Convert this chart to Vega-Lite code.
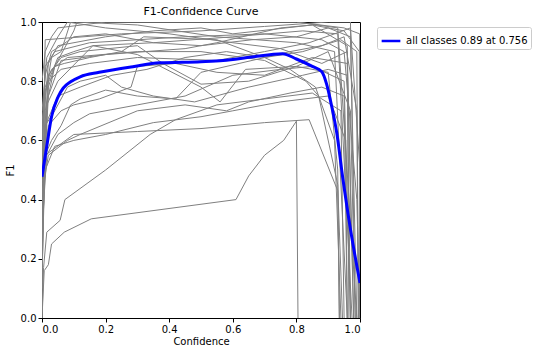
{
  "$schema": "https://vega.github.io/schema/vega-lite/v6.json",
  "width": 318,
  "height": 296,
  "autosize": {"type": "none"},
  "padding": {"left": 42, "top": 22, "right": 173, "bottom": 37},
  "background": "white",
  "title": {"text": "F1-Confidence Curve", "fontSize": 11, "font": "DejaVu Sans", "fontWeight": "normal", "color": "black", "offset": 0},
  "config": {
    "view": {"stroke": "black", "strokeWidth": 1},
    "axis": {"grid": false, "domainColor": "black", "tickColor": "black", "tickSize": 4, "labelFont": "DejaVu Sans", "labelFontSize": 10, "labelColor": "black", "titleFont": "DejaVu Sans", "titleFontSize": 10, "titleFontWeight": "normal", "titleColor": "black", "labelPadding": 2}
  },
  "datasets": {
    "grey": [
      {"c":"L1","x":0,"y":0.0},{"c":"L1","x":0.005,"y":0.6},{"c":"L1","x":0.01,"y":0.94},{"c":"L1","x":0.07,"y":0.945},{"c":"L1","x":0.25,"y":0.96},{"c":"L1","x":0.5,"y":0.97},{"c":"L1","x":0.7,"y":0.985},{"c":"L1","x":0.9,"y":1.0},{"c":"L1","x":0.97,"y":1.0},{"c":"L1","x":0.985,"y":0},
      {"c":"L2","x":0,"y":0.1},{"c":"L2","x":0.01,"y":0.75},{"c":"L2","x":0.03,"y":0.88},{"c":"L2","x":0.06,"y":0.9},{"c":"L2","x":0.09,"y":1.0},{"c":"L2","x":0.5,"y":1.0},{"c":"L2","x":0.8,"y":1.0},{"c":"L2","x":0.93,"y":0.98},{"c":"L2","x":0.99,"y":0},
      {"c":"L3","x":0,"y":0.2},{"c":"L3","x":0.01,"y":0.7},{"c":"L3","x":0.04,"y":0.85},{"c":"L3","x":0.1,"y":0.97},{"c":"L3","x":0.11,"y":1.0},{"c":"L3","x":0.3,"y":0.99},{"c":"L3","x":0.55,"y":0.95},{"c":"L3","x":0.8,"y":0.93},{"c":"L3","x":0.92,"y":0.9},{"c":"L3","x":0.96,"y":0},
      {"c":"L4","x":0,"y":0.3},{"c":"L4","x":0.02,"y":0.8},{"c":"L4","x":0.05,"y":0.88},{"c":"L4","x":0.1,"y":0.9},{"c":"L4","x":0.16,"y":0.92},{"c":"L4","x":0.35,"y":0.93},{"c":"L4","x":0.6,"y":0.95},{"c":"L4","x":0.82,"y":0.97},{"c":"L4","x":0.93,"y":0.96},{"c":"L4","x":0.975,"y":0},
      {"c":"L5","x":0,"y":0.35},{"c":"L5","x":0.02,"y":0.75},{"c":"L5","x":0.06,"y":0.87},{"c":"L5","x":0.2,"y":0.89},{"c":"L5","x":0.45,"y":0.91},{"c":"L5","x":0.55,"y":0.93},{"c":"L5","x":0.75,"y":0.98},{"c":"L5","x":0.85,"y":0.99},{"c":"L5","x":0.96,"y":0.92},{"c":"L5","x":0.965,"y":0},
      {"c":"L6","x":0,"y":0.4},{"c":"L6","x":0.015,"y":0.72},{"c":"L6","x":0.05,"y":0.8},{"c":"L6","x":0.16,"y":0.92},{"c":"L6","x":0.3,"y":0.89},{"c":"L6","x":0.5,"y":0.78},{"c":"L6","x":0.56,"y":0.73},{"c":"L6","x":0.64,"y":0.84},{"c":"L6","x":0.8,"y":0.85},{"c":"L6","x":0.9,"y":0.83},{"c":"L6","x":0.93,"y":0.5},{"c":"L6","x":0.935,"y":0},
      {"c":"L7","x":0,"y":0.0},{"c":"L7","x":0.005,"y":0.17},{"c":"L7","x":0.015,"y":0.29},{"c":"L7","x":0.057,"y":0.33},{"c":"L7","x":0.072,"y":0.4},{"c":"L7","x":0.2,"y":0.5},{"c":"L7","x":0.34,"y":0.62},{"c":"L7","x":0.42,"y":0.67},{"c":"L7","x":0.55,"y":0.72},{"c":"L7","x":0.7,"y":0.74},{"c":"L7","x":0.85,"y":0.76},{"c":"L7","x":0.94,"y":0.7},{"c":"L7","x":0.95,"y":0},
      {"c":"L8","x":0,"y":0.0},{"c":"L8","x":0.007,"y":0.16},{"c":"L8","x":0.02,"y":0.18},{"c":"L8","x":0.03,"y":0.25},{"c":"L8","x":0.07,"y":0.29},{"c":"L8","x":0.155,"y":0.335},{"c":"L8","x":0.61,"y":0.4},{"c":"L8","x":0.65,"y":0.48},{"c":"L8","x":0.7,"y":0.55},{"c":"L8","x":0.76,"y":0.6},{"c":"L8","x":0.8,"y":0.665},{"c":"L8","x":0.805,"y":0},
      {"c":"L9","x":0,"y":0.25},{"c":"L9","x":0.01,"y":0.5},{"c":"L9","x":0.04,"y":0.58},{"c":"L9","x":0.1,"y":0.6},{"c":"L9","x":0.2,"y":0.62},{"c":"L9","x":0.35,"y":0.66},{"c":"L9","x":0.5,"y":0.68},{"c":"L9","x":0.6,"y":0.7},{"c":"L9","x":0.75,"y":0.73},{"c":"L9","x":0.9,"y":0.75},{"c":"L9","x":0.955,"y":0.6},{"c":"L9","x":0.96,"y":0},
      {"c":"L10","x":0,"y":0.3},{"c":"L10","x":0.015,"y":0.55},{"c":"L10","x":0.05,"y":0.62},{"c":"L10","x":0.1,"y":0.66},{"c":"L10","x":0.15,"y":0.69},{"c":"L10","x":0.3,"y":0.72},{"c":"L10","x":0.45,"y":0.75},{"c":"L10","x":0.6,"y":0.82},{"c":"L10","x":0.75,"y":0.84},{"c":"L10","x":0.85,"y":0.85},{"c":"L10","x":0.95,"y":0.8},{"c":"L10","x":0.97,"y":0},
      {"c":"L11","x":0,"y":0.45},{"c":"L11","x":0.02,"y":0.65},{"c":"L11","x":0.06,"y":0.7},{"c":"L11","x":0.1,"y":0.72},{"c":"L11","x":0.18,"y":0.74},{"c":"L11","x":0.28,"y":0.78},{"c":"L11","x":0.3,"y":0.85},{"c":"L11","x":0.42,"y":0.86},{"c":"L11","x":0.55,"y":0.83},{"c":"L11","x":0.7,"y":0.82},{"c":"L11","x":0.85,"y":0.88},{"c":"L11","x":0.96,"y":0.86},{"c":"L11","x":0.98,"y":0},
      {"c":"L12","x":0,"y":0.5},{"c":"L12","x":0.02,"y":0.82},{"c":"L12","x":0.06,"y":0.88},{"c":"L12","x":0.12,"y":0.9},{"c":"L12","x":0.3,"y":0.92},{"c":"L12","x":0.38,"y":0.86},{"c":"L12","x":0.5,"y":0.79},{"c":"L12","x":0.65,"y":0.8},{"c":"L12","x":0.8,"y":0.85},{"c":"L12","x":0.9,"y":0.9},{"c":"L12","x":0.97,"y":0.7},{"c":"L12","x":0.985,"y":0},
      {"c":"L13","x":0,"y":0.55},{"c":"L13","x":0.01,"y":0.85},{"c":"L13","x":0.04,"y":0.9},{"c":"L13","x":0.15,"y":0.93},{"c":"L13","x":0.45,"y":0.95},{"c":"L13","x":0.7,"y":0.96},{"c":"L13","x":0.88,"y":0.94},{"c":"L13","x":0.95,"y":0.9},{"c":"L13","x":0.99,"y":0.4},{"c":"L13","x":1.0,"y":0},
      {"c":"L14","x":0,"y":0.6},{"c":"L14","x":0.02,"y":0.86},{"c":"L14","x":0.05,"y":0.92},{"c":"L14","x":0.2,"y":0.95},{"c":"L14","x":0.35,"y":0.97},{"c":"L14","x":0.5,"y":0.98},{"c":"L14","x":0.6,"y":0.96},{"c":"L14","x":0.85,"y":0.99},{"c":"L14","x":0.95,"y":0.97},{"c":"L14","x":0.998,"y":0.9},{"c":"L14","x":1.0,"y":0},
      {"c":"L15","x":0,"y":0.62},{"c":"L15","x":0.01,"y":0.78},{"c":"L15","x":0.03,"y":0.84},{"c":"L15","x":0.08,"y":0.88},{"c":"L15","x":0.3,"y":0.9},{"c":"L15","x":0.5,"y":0.9},{"c":"L15","x":0.7,"y":0.87},{"c":"L15","x":0.83,"y":0.8},{"c":"L15","x":0.87,"y":0.75},{"c":"L15","x":0.93,"y":0.45},{"c":"L15","x":0.945,"y":0},
      {"c":"L16","x":0,"y":0.5},{"c":"L16","x":0.01,"y":0.65},{"c":"L16","x":0.04,"y":0.7},{"c":"L16","x":0.08,"y":0.78},{"c":"L16","x":0.12,"y":0.8},{"c":"L16","x":0.2,"y":0.82},{"c":"L16","x":0.25,"y":0.78},{"c":"L16","x":0.35,"y":0.75},{"c":"L16","x":0.48,"y":0.73},{"c":"L16","x":0.65,"y":0.78},{"c":"L16","x":0.82,"y":0.82},{"c":"L16","x":0.9,"y":0.84},{"c":"L16","x":0.96,"y":0.82},{"c":"L16","x":0.97,"y":0},
      {"c":"L17","x":0,"y":0.15},{"c":"L17","x":0.01,"y":0.55},{"c":"L17","x":0.03,"y":0.6},{"c":"L17","x":0.06,"y":0.65},{"c":"L17","x":0.09,"y":0.72},{"c":"L17","x":0.12,"y":0.74},{"c":"L17","x":0.2,"y":0.77},{"c":"L17","x":0.3,"y":0.75},{"c":"L17","x":0.42,"y":0.74},{"c":"L17","x":0.5,"y":0.83},{"c":"L17","x":0.62,"y":0.86},{"c":"L17","x":0.78,"y":0.9},{"c":"L17","x":0.88,"y":0.92},{"c":"L17","x":0.95,"y":0.95},{"c":"L17","x":0.99,"y":0.7},{"c":"L17","x":0.995,"y":0},
      {"c":"L18","x":0,"y":0.7},{"c":"L18","x":0.015,"y":0.88},{"c":"L18","x":0.05,"y":0.95},{"c":"L18","x":0.08,"y":1.0},{"c":"L18","x":0.2,"y":0.98},{"c":"L18","x":0.4,"y":0.96},{"c":"L18","x":0.6,"y":0.93},{"c":"L18","x":0.75,"y":0.91},{"c":"L18","x":0.88,"y":0.86},{"c":"L18","x":0.96,"y":0.9},{"c":"L18","x":0.98,"y":0},
      {"c":"L19","x":0,"y":0.35},{"c":"L19","x":0.01,"y":0.65},{"c":"L19","x":0.05,"y":0.75},{"c":"L19","x":0.12,"y":0.78},{"c":"L19","x":0.22,"y":0.82},{"c":"L19","x":0.33,"y":0.84},{"c":"L19","x":0.45,"y":0.88},{"c":"L19","x":0.58,"y":0.9},{"c":"L19","x":0.7,"y":0.88},{"c":"L19","x":0.82,"y":0.9},{"c":"L19","x":0.94,"y":0.94},{"c":"L19","x":0.99,"y":0.9},{"c":"L19","x":0.995,"y":0},
      {"c":"L20","x":0,"y":0.8},{"c":"L20","x":0.01,"y":0.9},{"c":"L20","x":0.03,"y":0.95},{"c":"L20","x":0.05,"y":0.98},{"c":"L20","x":0.2,"y":1.0},{"c":"L20","x":0.6,"y":1.0},{"c":"L20","x":0.8,"y":1.0},{"c":"L20","x":0.95,"y":0.98},{"c":"L20","x":0.999,"y":0.96},{"c":"L20","x":1.0,"y":0},
      {"c":"L21","x":0,"y":0.4},{"c":"L21","x":0.02,"y":0.78},{"c":"L21","x":0.04,"y":0.85},{"c":"L21","x":0.07,"y":0.86},{"c":"L21","x":0.15,"y":0.88},{"c":"L21","x":0.25,"y":0.9},{"c":"L21","x":0.32,"y":0.95},{"c":"L21","x":0.55,"y":0.94},{"c":"L21","x":0.7,"y":0.88},{"c":"L21","x":0.78,"y":0.84},{"c":"L21","x":0.86,"y":0.78},{"c":"L21","x":0.92,"y":0.6},{"c":"L21","x":0.94,"y":0},
      {"c":"L22","x":0,"y":0.1},{"c":"L22","x":0.005,"y":0.45},{"c":"L22","x":0.02,"y":0.55},{"c":"L22","x":0.08,"y":0.6},{"c":"L22","x":0.12,"y":0.62},{"c":"L22","x":0.3,"y":0.7},{"c":"L22","x":0.45,"y":0.72},{"c":"L22","x":0.58,"y":0.7},{"c":"L22","x":0.65,"y":0.73},{"c":"L22","x":0.78,"y":0.76},{"c":"L22","x":0.88,"y":0.78},{"c":"L22","x":0.95,"y":0.75},{"c":"L22","x":0.96,"y":0},
      {"c":"L23","x":0,"y":0.65},{"c":"L23","x":0.01,"y":0.82},{"c":"L23","x":0.03,"y":0.9},{"c":"L23","x":0.06,"y":0.92},{"c":"L23","x":0.1,"y":0.95},{"c":"L23","x":0.2,"y":0.96},{"c":"L23","x":0.35,"y":0.93},{"c":"L23","x":0.5,"y":0.92},{"c":"L23","x":0.66,"y":0.94},{"c":"L23","x":0.8,"y":0.95},{"c":"L23","x":0.9,"y":0.98},{"c":"L23","x":0.97,"y":0.95},{"c":"L23","x":0.99,"y":0},
      {"c":"L24","x":0,"y":0.5},{"c":"L24","x":0.005,"y":0.75},{"c":"L24","x":0.02,"y":0.8},{"c":"L24","x":0.06,"y":0.84},{"c":"L24","x":0.15,"y":0.86},{"c":"L24","x":0.3,"y":0.88},{"c":"L24","x":0.55,"y":0.87},{"c":"L24","x":0.7,"y":0.9},{"c":"L24","x":0.84,"y":0.93},{"c":"L24","x":0.92,"y":0.96},{"c":"L24","x":0.97,"y":0.98},{"c":"L24","x":1.0,"y":0.5},
      {"c":"L25","x":0,"y":0.2},{"c":"L25","x":0.01,"y":0.55},{"c":"L25","x":0.1,"y":0.62},{"c":"L25","x":0.3,"y":0.63},{"c":"L25","x":0.5,"y":0.64},{"c":"L25","x":0.7,"y":0.66},{"c":"L25","x":0.84,"y":0.67},{"c":"L25","x":0.93,"y":0.43},{"c":"L25","x":0.935,"y":0}
    ],
    "all": [
      {"s":"all classes 0.89 at 0.756","x":0,"y":0.477},
      {"s":"all classes 0.89 at 0.756","x":0.015,"y":0.58},
      {"s":"all classes 0.89 at 0.756","x":0.03,"y":0.68},
      {"s":"all classes 0.89 at 0.756","x":0.051,"y":0.748},
      {"s":"all classes 0.89 at 0.756","x":0.067,"y":0.777},
      {"s":"all classes 0.89 at 0.756","x":0.09,"y":0.798},
      {"s":"all classes 0.89 at 0.756","x":0.12,"y":0.815},
      {"s":"all classes 0.89 at 0.756","x":0.18,"y":0.83},
      {"s":"all classes 0.89 at 0.756","x":0.29,"y":0.85},
      {"s":"all classes 0.89 at 0.756","x":0.37,"y":0.862},
      {"s":"all classes 0.89 at 0.756","x":0.5,"y":0.866},
      {"s":"all classes 0.89 at 0.756","x":0.57,"y":0.87},
      {"s":"all classes 0.89 at 0.756","x":0.66,"y":0.882},
      {"s":"all classes 0.89 at 0.756","x":0.756,"y":0.893},
      {"s":"all classes 0.89 at 0.756","x":0.8,"y":0.875},
      {"s":"all classes 0.89 at 0.756","x":0.85,"y":0.85},
      {"s":"all classes 0.89 at 0.756","x":0.88,"y":0.832},
      {"s":"all classes 0.89 at 0.756","x":0.895,"y":0.79},
      {"s":"all classes 0.89 at 0.756","x":0.91,"y":0.72},
      {"s":"all classes 0.89 at 0.756","x":0.927,"y":0.625},
      {"s":"all classes 0.89 at 0.756","x":0.945,"y":0.48},
      {"s":"all classes 0.89 at 0.756","x":0.97,"y":0.3},
      {"s":"all classes 0.89 at 0.756","x":1.0,"y":0.118}
    ]
  },
  "layer": [
    {
      "data": {"name": "grey"},
      "mark": {"type": "line", "color": "grey", "strokeWidth": 1, "clip": true},
      "encoding": {
        "x": {"field": "x", "type": "quantitative", "scale": {"domain": [0, 1], "nice": false}, "axis": {"title": "Confidence", "values": [0, 0.2, 0.4, 0.6, 0.8, 1.0], "format": ".1f", "titlePadding": 2}},
        "y": {"field": "y", "type": "quantitative", "scale": {"domain": [0, 1], "nice": false}, "axis": {"title": "F1", "values": [0, 0.2, 0.4, 0.6, 0.8, 1.0], "format": ".1f", "titlePadding": 5}},
        "detail": {"field": "c", "type": "nominal"},
        "order": {"field": "x", "type": "quantitative"}
      }
    },
    {
      "data": {"name": "all"},
      "mark": {"type": "line", "strokeWidth": 3, "clip": true, "interpolate": "monotone"},
      "encoding": {
        "x": {"field": "x", "type": "quantitative"},
        "y": {"field": "y", "type": "quantitative"},
        "color": {"field": "s", "type": "nominal", "scale": {"range": ["blue"]}, "legend": {"title": null, "orient": "none", "legendX": 335, "legendY": 5, "symbolType": "stroke", "symbolStrokeWidth": 2.5, "symbolSize": 350, "strokeColor": "#cccccc", "fillColor": "white", "padding": 3, "cornerRadius": 2, "labelFont": "DejaVu Sans", "labelFontSize": 10, "labelColor": "black"}}
      }
    }
  ]
}
